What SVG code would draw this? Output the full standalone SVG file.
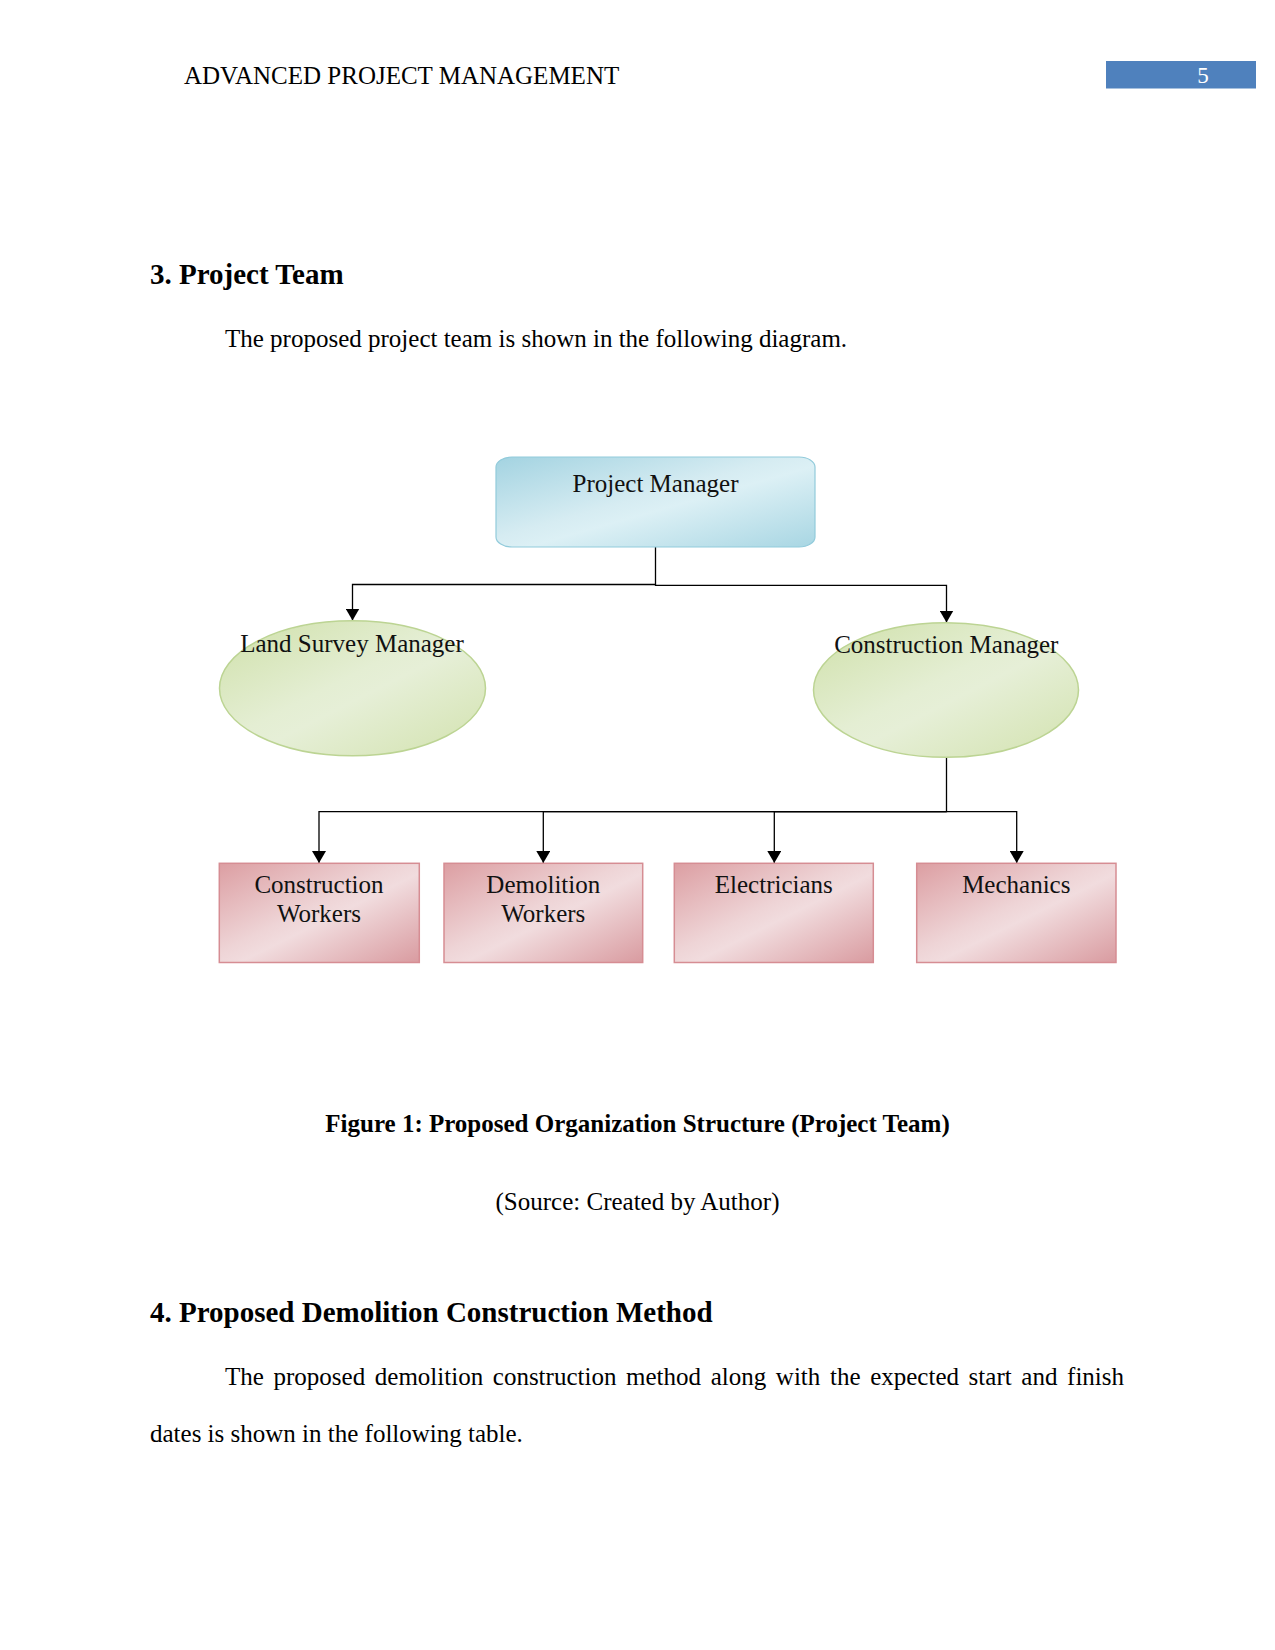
<svg xmlns="http://www.w3.org/2000/svg" width="1275" height="1650" viewBox="0 0 1275 1650">
<style>
.t{font-family:"Liberation Serif","Times New Roman",serif;fill:#000}
.b{font-weight:bold}
.n{font-family:"Liberation Serif","Times New Roman",serif;font-size:25px;fill:#111;text-anchor:middle}
.c{fill:none;stroke:#000;stroke-width:1.3}
</style>
<defs>
<linearGradient id="gBlue" x1="0" y1="0" x2="1" y2="1">
<stop offset="0" stop-color="#a3d3e1"/>
<stop offset="0.45" stop-color="#d6ecf2"/>
<stop offset="0.55" stop-color="#dcf0f5"/>
<stop offset="1" stop-color="#a8d6e3"/>
</linearGradient>
<linearGradient id="gGreen" x1="0" y1="0" x2="1" y2="1">
<stop offset="0" stop-color="#cfe0a9"/>
<stop offset="0.45" stop-color="#e4eed3"/>
<stop offset="0.55" stop-color="#e6efd7"/>
<stop offset="1" stop-color="#d2e2ae"/>
</linearGradient>
<linearGradient id="gRed" x1="0" y1="0" x2="1" y2="1">
<stop offset="0" stop-color="#dc9ea2"/>
<stop offset="0.45" stop-color="#eed4d6"/>
<stop offset="0.55" stop-color="#f1dcde"/>
<stop offset="1" stop-color="#d99ba0"/>
</linearGradient>
<marker id="arr" markerUnits="userSpaceOnUse" markerWidth="14" markerHeight="12" viewBox="0 0 14 12" refX="7" refY="12" orient="0">
<path d="M0,0 L14,0 L7,12 Z" fill="#000"/>
</marker>
</defs>

<!-- header -->
<text class="t" x="184" y="83.5" font-size="25">ADVANCED PROJECT MANAGEMENT</text>
<rect x="1106" y="61" width="150" height="27.5" fill="#4f81bd"/>
<text x="1203" y="83" font-family="Liberation Serif, serif" font-size="23" fill="#fff" text-anchor="middle">5</text>

<text class="t b" x="150" y="284" font-size="29">3. Project Team</text>
<text class="t" x="225" y="347" font-size="25">The proposed project team is shown in the following diagram.</text>

<!-- connectors -->
<g id="connectors">
<path class="c" d="M655.5,547 V584.5 H352.5 V620.5" marker-end="url(#arr)"/>
<path class="c" d="M655.5,584.5 V585.3 H946.5 V622.5" marker-end="url(#arr)"/>
<path class="c" d="M946.5,757 V811.7 H319 V863" marker-end="url(#arr)"/>
<path class="c" d="M946.5,811.7 H543.3 V863" marker-end="url(#arr)"/>
<path class="c" d="M946.5,811.7 H774.3 V863" marker-end="url(#arr)"/>
<path class="c" d="M946.5,811.7 H1016.7 V863" marker-end="url(#arr)"/>
</g>

<!-- nodes -->
<g id="project-manager">
<rect x="496" y="457" width="319" height="90" rx="16" ry="10" fill="url(#gBlue)" stroke="#92cbdb" stroke-width="1.2"/>
<text class="n" x="655.5" y="491.5">Project Manager</text>
</g>
<g id="land-survey-manager">
<ellipse cx="352.5" cy="688.3" rx="133" ry="67.5" fill="url(#gGreen)" stroke="#bcd493" stroke-width="1.5"/>
<text class="n" x="352" y="651.5">Land Survey Manager</text>
</g>
<g id="construction-manager">
<ellipse cx="946" cy="690" rx="132.5" ry="67.3" fill="url(#gGreen)" stroke="#bcd493" stroke-width="1.5"/>
<text class="n" x="946.3" y="653.3">Construction Manager</text>
</g>
<g id="construction-workers">
<rect x="219.3" y="863.3" width="200" height="99.2" fill="url(#gRed)" stroke="#d68d93" stroke-width="1.5"/>
<text class="n" x="319" y="893.3">Construction</text>
<text class="n" x="319" y="922.3">Workers</text>
</g>
<g id="demolition-workers">
<rect x="444" y="863.3" width="198.7" height="99.2" fill="url(#gRed)" stroke="#d68d93" stroke-width="1.5"/>
<text class="n" x="543.3" y="893.3">Demolition</text>
<text class="n" x="543.3" y="922.3">Workers</text>
</g>
<g id="electricians">
<rect x="674.3" y="863.3" width="199" height="99.2" fill="url(#gRed)" stroke="#d68d93" stroke-width="1.5"/>
<text class="n" x="773.8" y="893.3">Electricians</text>
</g>
<g id="mechanics">
<rect x="916.7" y="863.3" width="199.3" height="99.2" fill="url(#gRed)" stroke="#d68d93" stroke-width="1.5"/>
<text class="n" x="1016.3" y="893.3">Mechanics</text>
</g>

<text class="t b" x="637.5" y="1132" font-size="25" text-anchor="middle">Figure 1: Proposed Organization Structure (Project Team)</text>
<text class="t" x="637.5" y="1210" font-size="25" text-anchor="middle">(Source: Created by Author)</text>

<text class="t b" x="150" y="1322" font-size="29">4. Proposed Demolition Construction Method</text>
<text class="t" x="225" y="1385" font-size="25" word-spacing="3.4">The proposed demolition construction method along with the expected start and finish</text>
<text class="t" x="150" y="1441.5" font-size="25">dates is shown in the following table.</text>
</svg>
